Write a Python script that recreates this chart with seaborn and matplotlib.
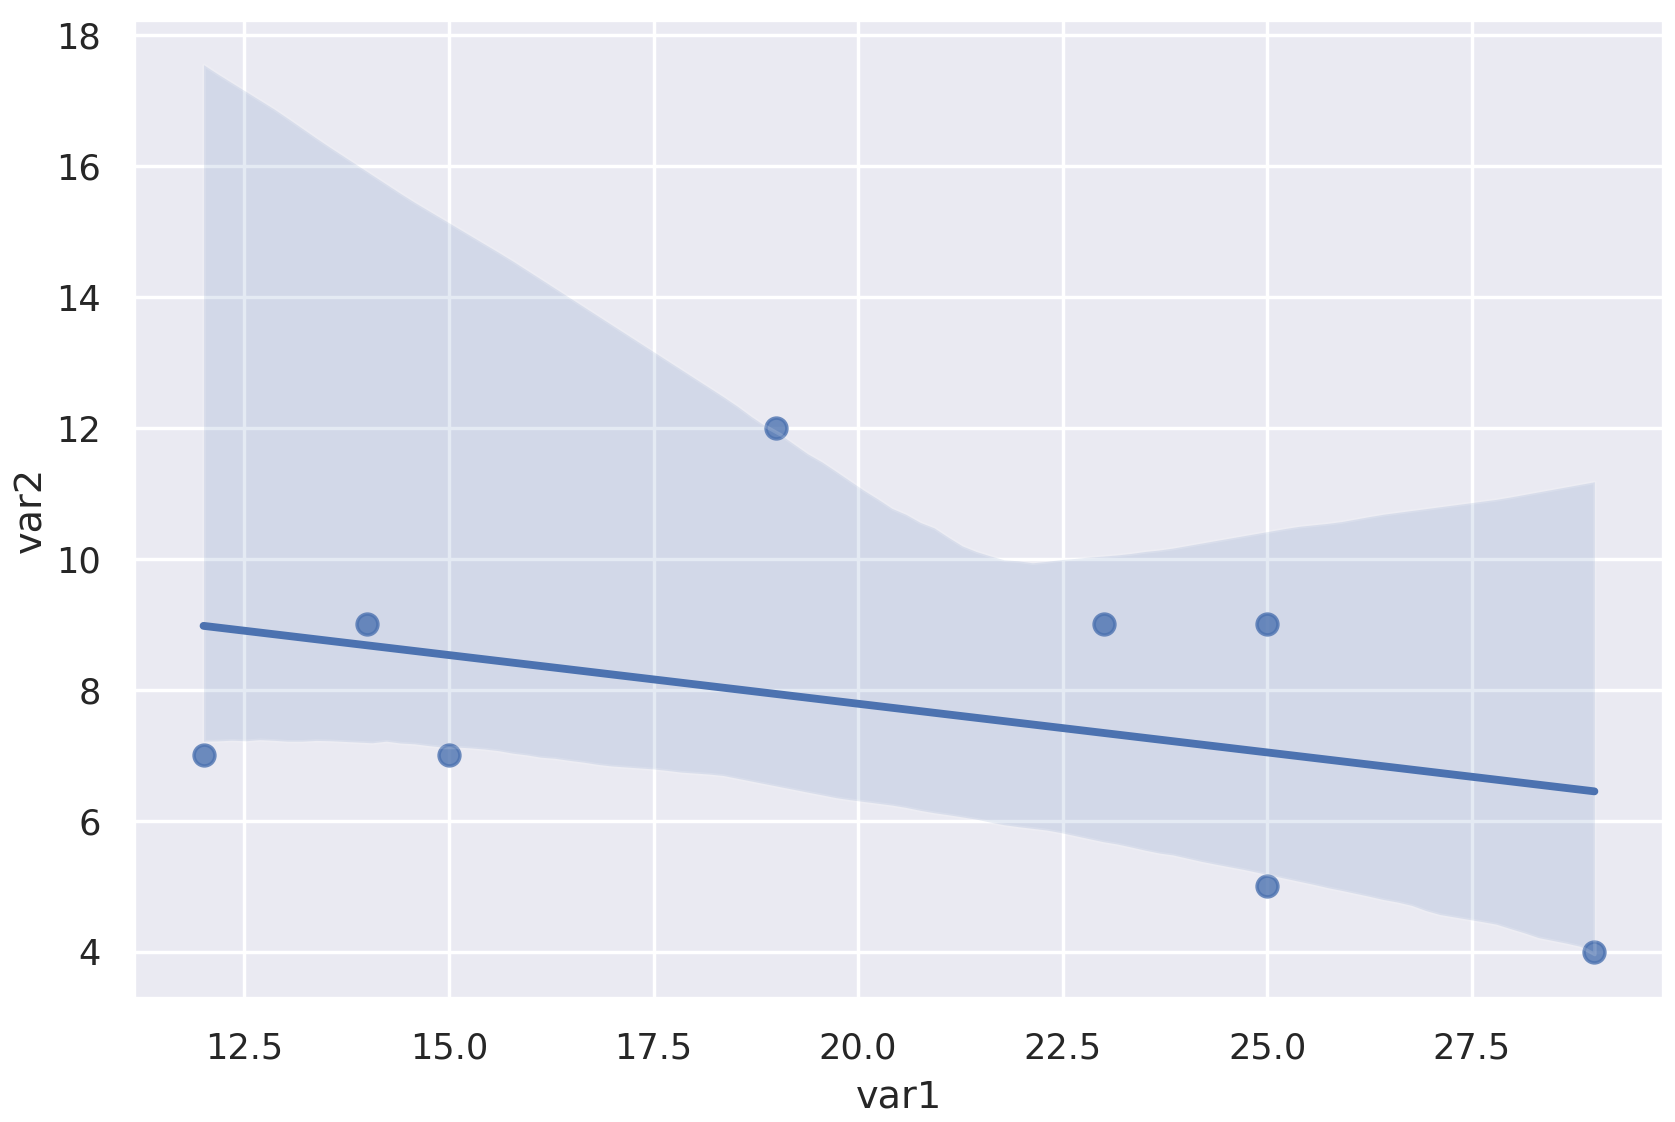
import numpy as np
import pandas as pd
import seaborn as sns
import matplotlib
matplotlib.use("Agg")
import matplotlib.pyplot as plt
from seaborn import algorithms as algo

var1 = [12, 14, 15, 19, 23, 25, 25, 29]
var2 = [7, 9, 7, 12, 9, 9, 5, 4]

df = pd.DataFrame({"var1": var1, "var2": var2})

sns.set_theme(style="darkgrid", font_scale=0.92)

# choose a bootstrap seed whose confidence band resembles the reference
targets_upper = {12: 17.59, 15: 15.19, 19: 12.1, 22.3: 9.94, 25: 10.38, 29: 11.2}
targets_lower = {12: 7.23, 19: 6.55, 22.5: 5.98, 25: 5.24, 29: 4.18}

xa = np.asarray(var1, float)
ya = np.asarray(var2, float)
X = np.c_[np.ones(len(xa)), xa]
grid = np.linspace(xa.min(), xa.max(), 100)
G = np.c_[np.ones(len(grid)), grid]


def reg_func(_x, _y):
    return np.linalg.pinv(_x).dot(_y)


def band_score(seed):
    betas = algo.bootstrap(X, ya, func=reg_func, n_boot=1000, seed=seed).T
    yb = G.dot(betas).T
    lo, hi = np.nanpercentile(yb, (2.5, 97.5), axis=0)
    s = 0.0
    for x, t in targets_upper.items():
        s += (np.interp(x, grid, hi) - t) ** 2
    for x, t in targets_lower.items():
        s += (np.interp(x, grid, lo) - t) ** 2
    return s


best_seed, best = 0, np.inf
for sd in range(1000):
    sc = band_score(sd)
    if sc < best:
        best, best_seed = sc, sd

fig, ax = plt.subplots(figsize=(6.7, 4.488), dpi=250)
sns.regplot(data=df, x="var1", y="var2", ax=ax, seed=best_seed)
ax.set_yticks([4, 6, 8, 10, 12, 14, 16, 18])
ax.yaxis.labelpad = 2
fig.subplots_adjust(left=0.08, right=0.9934, top=0.982, bottom=0.11)
fig.savefig("out.png", dpi=250)
print(best_seed, best)
